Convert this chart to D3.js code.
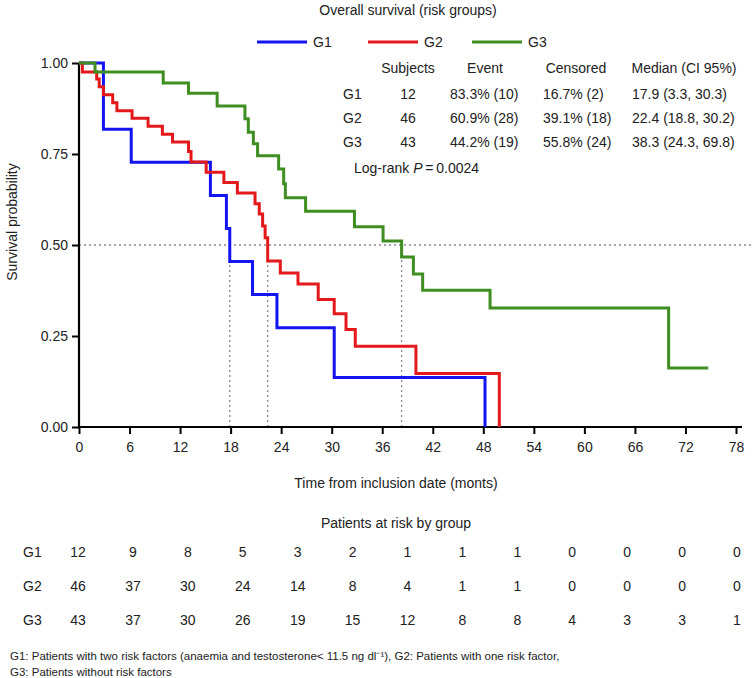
<!DOCTYPE html>
<html>
<head>
<meta charset="utf-8">
<script src="https://cdn.jsdelivr.net/npm/d3@7"></script>
<style>
  html, body { margin: 0; padding: 0; background: #fff; }
  svg { display: block; font-family: "Liberation Sans", Arial, Helvetica, sans-serif; }
</style>
</head>
<body>
<svg id="chart" width="755" height="678"></svg>
<script>
// ---------------- DATA ----------------
const groups = ["G1", "G2", "G3"];
const groupColors = ["#1414f0", "#e4191c", "#3f8e22"];

// Kaplan-Meier steps: time (months) at which survival changes, and survival from then on
const g1Times = [0, 2.9, 6.2, 15.6, 17.5, 17.9, 20.6, 23.5, 30.3, 48.2];
const g1Surv  = [1, 0.818, 0.727, 0.636, 0.545, 0.455, 0.364, 0.273, 0.136, 0];

const g2Times = [0, 0.4, 2.1, 2.4, 2.9, 4.0, 4.5, 6.3, 8.2, 9.9, 11.1, 13.0, 13.3, 15.1, 17.2, 18.8, 20.9, 21.4, 21.8, 22.1, 22.4, 23.9, 26.0, 28.4, 30.3, 31.7, 32.8, 40.0, 49.9];
const g2Surv  = [1, 0.975, 0.956, 0.935, 0.913, 0.891, 0.869, 0.848, 0.826, 0.804, 0.783, 0.757, 0.728, 0.700, 0.672, 0.643, 0.613, 0.585, 0.552, 0.52, 0.456, 0.423, 0.393, 0.350, 0.311, 0.268, 0.222, 0.147, 0];

const g3Times = [0, 1.9, 10.0, 13.0, 16.4, 19.7, 20.1, 20.7, 21.2, 23.7, 24.3, 24.5, 26.9, 32.7, 36.1, 38.3, 39.7, 40.8, 48.8, 70.0, 74.7];
const g3Surv  = [1, 0.975, 0.945, 0.917, 0.882, 0.847, 0.810, 0.778, 0.745, 0.709, 0.668, 0.630, 0.593, 0.550, 0.511, 0.467, 0.420, 0.376, 0.327, 0.162, 0.162];

const medians = [17.9, 22.4, 38.3];

const xTicks = [0, 6, 12, 18, 24, 30, 36, 42, 48, 54, 60, 66, 72, 78];
const yTicks = [0, 0.25, 0.5, 0.75, 1];

const statHeaders = ["Subjects", "Event", "Censored", "Median (CI 95%)"];
const statSubjects = ["12", "46", "43"];
const statEvent = ["83.3% (10)", "60.9% (28)", "44.2% (19)"];
const statCensored = ["16.7% (2)", "39.1% (18)", "55.8% (24)"];
const statMedian = ["17.9 (3.3, 30.3)", "22.4 (18.8, 30.2)", "38.3 (24.3, 69.8)"];

const riskG1 = [12, 9, 8, 5, 3, 2, 1, 1, 1, 0, 0, 0, 0];
const riskG2 = [46, 37, 30, 24, 14, 8, 4, 1, 1, 0, 0, 0, 0];
const riskG3 = [43, 37, 30, 26, 19, 15, 12, 8, 8, 4, 3, 3, 1];

const title = "Overall survival (risk groups)";
const xTitle = "Time from inclusion date (monts)";
const yTitle = "Survival probability";
const riskTitle = "Patients at risk by group";
const footLine1 = "G1: Patients with two risk factors (anaemia and testosterone< 11.5 ng dl\u207B\u00B9), G2: Patients with one risk factor,";
const footLine2 = "G3: Patients without risk factors";

// ---------------- DRAW ----------------
const svg = d3.select("#chart");
const x = d3.scaleLinear().domain([0, 78]).range([79, 736]);
const y = d3.scaleLinear().domain([0, 1]).range([427, 63]);

// title
svg.append("text").attr("x", 408).attr("y", 10).attr("text-anchor", "middle")
  .attr("dominant-baseline", "central").attr("font-size", 14).attr("fill", "#222").text(title);

// legend
const legX = [257, 368, 472];
groups.forEach((g, i) => {
  svg.append("line").attr("x1", legX[i]).attr("x2", legX[i] + 50).attr("y1", 42).attr("y2", 42)
    .attr("stroke", groupColors[i]).attr("stroke-width", 3);
  svg.append("text").attr("x", legX[i] + 56).attr("y", 42).attr("dominant-baseline", "central")
    .attr("font-size", 14).attr("fill", "#222").text(g);
});

// dotted reference lines
svg.append("line").attr("x1", x(0)).attr("x2", 752).attr("y1", y(0.5)).attr("y2", y(0.5))
  .attr("stroke", "#888").attr("stroke-width", 1.3).attr("stroke-dasharray", "2,3");
medians.forEach(m => {
  svg.append("line").attr("x1", x(m)).attr("x2", x(m)).attr("y1", y(0.5)).attr("y2", y(0))
    .attr("stroke", "#888").attr("stroke-width", 1.3).attr("stroke-dasharray", "2,3");
});

// axes
const xAxis = d3.axisBottom(x).tickValues(xTicks).tickSize(7).tickPadding(8).tickFormat(d3.format("d"));
const gx = svg.append("g").attr("transform", `translate(0,${y(0)})`).call(xAxis);
gx.select(".domain").attr("d", `M${x(0)},0H742`).attr("stroke-width", 2.2);
gx.selectAll(".tick line").attr("stroke-width", 2);
gx.selectAll(".tick text").attr("font-size", 14).attr("fill", "#222").attr("font-family", "Liberation Sans, Arial, sans-serif");

const yAxis = d3.axisLeft(y).tickValues(yTicks).tickSize(7).tickPadding(4).tickFormat(d3.format(".2f"));
const gy = svg.append("g").attr("transform", `translate(${x(0)},0)`).call(yAxis);
gy.select(".domain").attr("d", `M0,${y(1)}V${y(0)}`).attr("stroke-width", 2.2);
gy.selectAll(".tick line").attr("stroke-width", 2);
gy.selectAll(".tick text").attr("font-size", 14).attr("fill", "#222").attr("font-family", "Liberation Sans, Arial, sans-serif");

// axis titles
svg.append("text").attr("x", 396).attr("y", 483).attr("text-anchor", "middle").attr("dominant-baseline", "central")
  .attr("font-size", 14).attr("fill", "#222").text(xTitle);
svg.append("text").attr("transform", "translate(12,222) rotate(-90)").attr("text-anchor", "middle")
  .attr("dominant-baseline", "central").attr("font-size", 14).attr("fill", "#222").text(yTitle);

// curves
const line = d3.line().x(d => x(d[0])).y(d => y(d[1])).curve(d3.curveStepAfter);
const series = [
  d3.zip(g1Times, g1Surv),
  d3.zip(g2Times, g2Surv),
  d3.zip(g3Times, g3Surv)
];
series.forEach((s, i) => {
  svg.append("path").attr("d", line(s)).attr("fill", "none")
    .attr("stroke", groupColors[i]).attr("stroke-width", 3).attr("stroke-linejoin", "miter");
});

// stats table
const colCenters = [408, 485, 576, 684];
const colLefts = [null, 450, 543, 632];
const rowY = [94, 118, 142];
statHeaders.forEach((h, i) => {
  svg.append("text").attr("x", colCenters[i]).attr("y", 68).attr("text-anchor", "middle")
    .attr("dominant-baseline", "central").attr("font-size", 14).attr("fill", "#222").text(h);
});
groups.forEach((g, r) => {
  const cells = [statSubjects[r], statEvent[r], statCensored[r], statMedian[r]];
  svg.append("text").attr("x", 343).attr("y", rowY[r]).attr("dominant-baseline", "central")
    .attr("font-size", 14).attr("fill", "#222").text(g);
  cells.forEach((c, i) => {
    const t = svg.append("text").attr("y", rowY[r]).attr("dominant-baseline", "central")
      .attr("font-size", 14).attr("fill", "#222").text(c);
    if (i === 0) t.attr("x", colCenters[0]).attr("text-anchor", "middle");
    else t.attr("x", colLefts[i]);
  });
});
const lr = svg.append("text").attr("x", 354).attr("y", 168).attr("dominant-baseline", "central")
  .attr("font-size", 14).attr("fill", "#222");
lr.append("tspan").text("Log-rank ");
lr.append("tspan").attr("font-style", "italic").text("P");
lr.append("tspan").text("\u2009=\u20090.0024");

// at-risk table
svg.append("text").attr("x", 396).attr("y", 523).attr("text-anchor", "middle").attr("dominant-baseline", "central")
  .attr("font-size", 14).attr("fill", "#222").text(riskTitle);
const riskCol = d3.scalePoint().domain(d3.range(riskG1.length)).range([78, 737]);
const riskRows = [riskG1, riskG2, riskG3];
const riskY = [552, 586, 620];
riskRows.forEach((row, r) => {
  svg.append("text").attr("x", 23).attr("y", riskY[r]).attr("dominant-baseline", "central")
    .attr("font-size", 14).attr("fill", "#222").text(groups[r]);
  row.forEach((v, i) => {
    svg.append("text").attr("x", riskCol(i)).attr("y", riskY[r]).attr("text-anchor", "middle")
      .attr("dominant-baseline", "central").attr("font-size", 14).attr("fill", "#222").text(v);
  });
});

// footnote
svg.append("text").attr("x", 10).attr("y", 656).attr("dominant-baseline", "central")
  .attr("font-size", 11.5).attr("fill", "#222").text(footLine1);
svg.append("text").attr("x", 10).attr("y", 672).attr("dominant-baseline", "central")
  .attr("font-size", 11.5).attr("fill", "#222").text(footLine2);
</script>
</body>
</html>
